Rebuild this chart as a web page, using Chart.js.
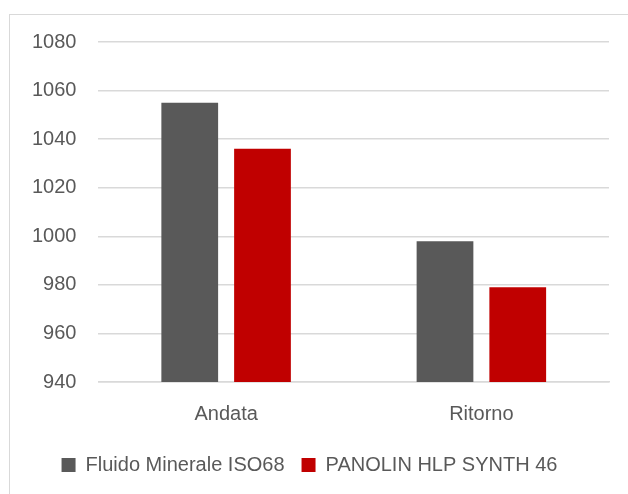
<!DOCTYPE html>
<html>
<head>
<meta charset="utf-8">
<script src="https://cdn.jsdelivr.net/npm/chart.js@4"></script>
<style>
  html, body { margin: 0; padding: 0; background: #fff; }
  #frame {
    position: absolute; left: 9px; top: 14px; width: 640px; height: 500px;
    border: 1px solid #d9d9d9; box-sizing: border-box;
  }
  #wrap { position: absolute; left: 0; top: 0; width: 628px; height: 494px; }
</style>
</head>
<body>
<div id="frame"></div>
<div id="wrap"><canvas id="chart"></canvas></div>
<script>
const categories = ['Andata', 'Ritorno'];
const mineraleValues = [1055, 998];
const panolinValues = [1036, 979];
const seriesNames = ['Fluido Minerale ISO68', 'PANOLIN HLP SYNTH 46'];

const textColor = '#595959';
const gridColor = '#d9d9d9';
const fontFamily = 'Liberation Sans, Arial, sans-serif';

const ctx = document.getElementById('chart').getContext('2d');

new Chart(ctx, {
    type: 'bar',
    data: {
        labels: categories,
        datasets: [{
            label: seriesNames[0],
            data: mineraleValues,
            backgroundColor: '#595959',
            barPercentage: 0.78,
            categoryPercentage: 0.57
        }, {
            label: seriesNames[1],
            data: panolinValues,
            backgroundColor: '#c00000',
            barPercentage: 0.78,
            categoryPercentage: 0.57
        }]
    },
    options: {
        responsive: true,
        maintainAspectRatio: false,
        animation: false,
        layout: { padding: { top: 42, right: 19, left: 10, bottom: 9 } },
        plugins: {
            tooltip: { enabled: false },
            legend: {
                position: 'bottom',
                labels: {
                    color: textColor,
                    font: { family: fontFamily, size: 20 },
                    boxWidth: 14,
                    boxHeight: 14,
                    padding: 17
                }
            }
        },
        scales: {
            x: {
                grid: { display: false },
                border: { color: gridColor, width: 1.5 },
                ticks: { color: textColor, font: { family: fontFamily, size: 20 }, padding: 12 }
            },
            y: {
                min: 940,
                max: 1080,
                ticks: {
                    stepSize: 20,
                    color: textColor,
                    font: { family: fontFamily, size: 20 },
                    padding: 22,
                    callback: v => String(v)
                },
                grid: { color: gridColor, lineWidth: 1.5, drawTicks: false },
                border: { display: false }
            }
        }
    }
});
</script>
</body>
</html>
